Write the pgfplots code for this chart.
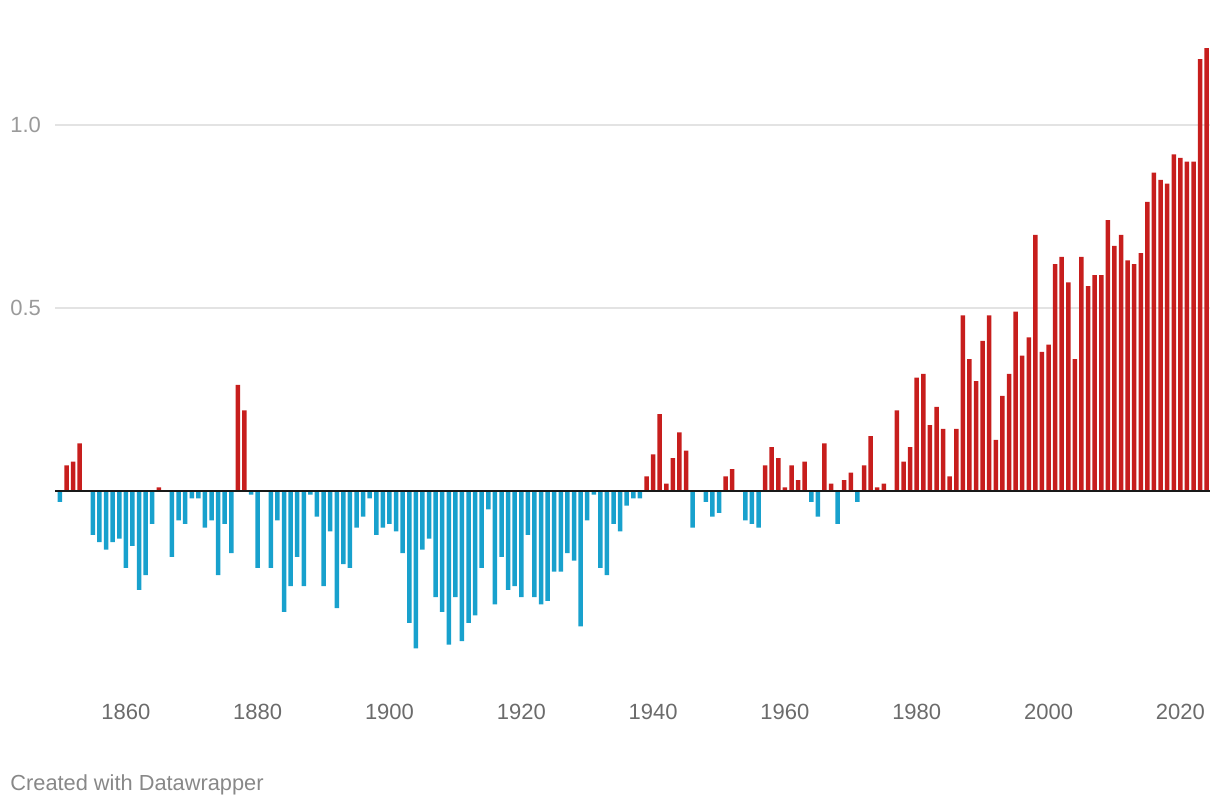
\documentclass[border=0pt]{standalone}
\usepackage{pgfplots}
\usepackage{pgfplotstable}
\pgfplotsset{compat=1.18}
\usepackage{fontspec}
\setmainfont{Liberation Sans}
\definecolor{dwred}{HTML}{C71E1D}
\definecolor{dwblue}{HTML}{18A1CD}
\definecolor{gridgray}{HTML}{E3E3E3}
\definecolor{ylab}{HTML}{9A9A9A}
\definecolor{xlab}{HTML}{6B6B6B}
\definecolor{credit}{HTML}{888888}

\pgfplotstableread{
year val
1851 0.07
1852 0.08
1853 0.13
1865 0.01
1877 0.29
1878 0.22
1939 0.04
1940 0.10
1941 0.21
1942 0.02
1943 0.09
1944 0.16
1945 0.11
1951 0.04
1952 0.06
1957 0.07
1958 0.12
1959 0.09
1960 0.01
1961 0.07
1962 0.03
1963 0.08
1966 0.13
1967 0.02
1969 0.03
1970 0.05
1972 0.07
1973 0.15
1974 0.01
1975 0.02
1977 0.22
1978 0.08
1979 0.12
1980 0.31
1981 0.32
1982 0.18
1983 0.23
1984 0.17
1985 0.04
1986 0.17
1987 0.48
1988 0.36
1989 0.30
1990 0.41
1991 0.48
1992 0.14
1993 0.26
1994 0.32
1995 0.49
1996 0.37
1997 0.42
1998 0.70
1999 0.38
2000 0.40
2001 0.62
2002 0.64
2003 0.57
2004 0.36
2005 0.64
2006 0.56
2007 0.59
2008 0.59
2009 0.74
2010 0.67
2011 0.70
2012 0.63
2013 0.62
2014 0.65
2015 0.79
2016 0.87
2017 0.85
2018 0.84
2019 0.92
2020 0.91
2021 0.90
2022 0.90
2023 1.18
2024 1.21
}\postable

\pgfplotstableread{
year val
1850 -0.03
1855 -0.12
1856 -0.14
1857 -0.16
1858 -0.14
1859 -0.13
1860 -0.21
1861 -0.15
1862 -0.27
1863 -0.23
1864 -0.09
1867 -0.18
1868 -0.08
1869 -0.09
1870 -0.02
1871 -0.02
1872 -0.10
1873 -0.08
1874 -0.23
1875 -0.09
1876 -0.17
1879 -0.01
1880 -0.21
1882 -0.21
1883 -0.08
1884 -0.33
1885 -0.26
1886 -0.18
1887 -0.26
1888 -0.01
1889 -0.07
1890 -0.26
1891 -0.11
1892 -0.32
1893 -0.20
1894 -0.21
1895 -0.10
1896 -0.07
1897 -0.02
1898 -0.12
1899 -0.10
1900 -0.09
1901 -0.11
1902 -0.17
1903 -0.36
1904 -0.43
1905 -0.16
1906 -0.13
1907 -0.29
1908 -0.33
1909 -0.42
1910 -0.29
1911 -0.41
1912 -0.36
1913 -0.34
1914 -0.21
1915 -0.05
1916 -0.31
1917 -0.18
1918 -0.27
1919 -0.26
1920 -0.29
1921 -0.12
1922 -0.29
1923 -0.31
1924 -0.30
1925 -0.22
1926 -0.22
1927 -0.17
1928 -0.19
1929 -0.37
1930 -0.08
1931 -0.01
1932 -0.21
1933 -0.23
1934 -0.09
1935 -0.11
1936 -0.04
1937 -0.02
1938 -0.02
1946 -0.10
1948 -0.03
1949 -0.07
1950 -0.06
1954 -0.08
1955 -0.09
1956 -0.10
1964 -0.03
1965 -0.07
1968 -0.09
1971 -0.03
}\negtable

\begin{document}
\begin{tikzpicture}
\path[use as bounding box] (0,0) rectangle (610pt,404pt);
\begin{axis}[
  at={(27.5pt,67pt)}, anchor=south west,
  scale only axis, width=577.5pt, height=320.25pt,
  xmin=1849.25, xmax=2024.5, ymin=-0.5, ymax=1.25,
  axis line style={draw=none}, major tick length=0pt,
  xtick={1860,1880,1900,1920,1940,1960,1980,2000,2020},
  xticklabels={1860,1880,1900,1920,1940,1960,1980,2000,2020},
  xticklabel style={anchor=center, inner sep=0pt, yshift=-19pt, font=\fontsize{11}{13}\selectfont, text=xlab},
  ytick={0.5,1.0},
  yticklabels={0.5,1.0},
  yticklabel style={anchor=west, inner sep=0pt, xshift=-22.5pt, font=\fontsize{11}{13}\selectfont, text=ylab},
  ymajorgrids, grid style={color=gridgray, line width=0.65pt},
  ybar, bar width=2.25pt, bar shift=0pt,
  clip=false,
]
\addplot[fill=dwred, draw=none] table[x=year, y=val] {\postable};
\addplot[fill=dwblue, draw=none] table[x=year, y=val] {\negtable};
\draw[color=black!90, line width=1pt] (axis cs:1849.25,0) -- (axis cs:2024.5,0);
\end{axis}
\node[anchor=west, inner sep=0pt, text=credit, font=\fontsize{10.9}{13}\selectfont] at (5pt,11.65pt) {Created with Datawrapper};
\end{tikzpicture}
\end{document}
